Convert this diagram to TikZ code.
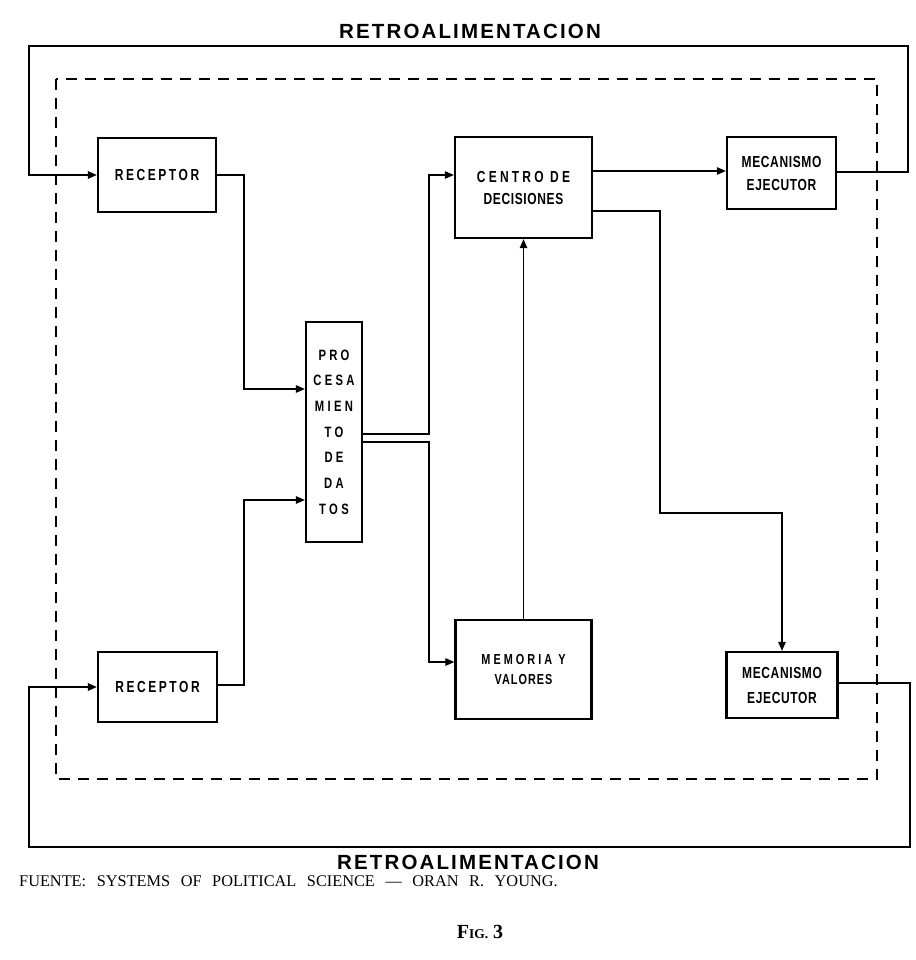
\documentclass[tikz,border=0pt]{standalone}
\usepackage{fontspec}
\setmainfont{Liberation Serif}
\setsansfont{Liberation Sans}
\newfontfamily\captfont[WordSpace=2.6]{Liberation Serif}
\newfontfamily\blkfont[FakeStretch=0.75]{Liberation Sans}
\usetikzlibrary{arrows.meta}
\newcommand{\lsp}[1]{\addfontfeature{LetterSpace=#1}}
\begin{document}
\begin{tikzpicture}[x=1pt,y=-1pt,
  blk/.style={draw,line width=2.3pt,inner sep=0pt,align=center,
    font=\blkfont\bfseries\fontsize{16}{22}\selectfont},
  conn/.style={line width=1.2pt},
  arr/.style={conn,-{Triangle[length=9pt,width=7.5pt]}},
  fbarr/.style={line width=1.6pt,-{Triangle[length=9pt,width=7.5pt]}},
  dashbox/.style={line width=1.5pt,dash pattern=on 11pt off 8pt},
  ttl/.style={font=\sffamily\bfseries\fontsize{20.5}{24}\selectfont\lsp{10.5}},
  capt/.style={font=\captfont\fontsize{16.3}{18}\selectfont}
]
\useasboundingbox (0,0) rectangle (915,960);
\fill[white] (0,0) rectangle (915,960);

% titles
\node[ttl] (t1) at (470,31) {RETROALIMENTACION};
\node[ttl] (t2) at (468,862) {RETROALIMENTACION};
\node[capt,anchor=west,inner sep=0pt] (src) at (19,881) {FUENTE: SYSTEMS OF POLITICAL SCIENCE — ORAN R. YOUNG.};
\node[font=\rmfamily\bfseries\fontsize{20}{22}\selectfont] (fig) at (480,932) {F{\fontsize{13.5}{15}\selectfont IG.} 3};

% system boundary
\draw[dashbox] (56,79) rectangle (877,779);

% blocks
\node[blk,minimum width=118pt,minimum height=74pt] (rec1) at (157,175)
  {{\lsp{16}RECEPTOR}};
\node[blk,minimum width=119pt,minimum height=70pt] (rec2) at (157.5,687)
  {{\lsp{16}RECEPTOR}};
\node[blk,minimum width=56pt,minimum height=220pt,
  font=\blkfont\bfseries\fontsize{15}{25.7}\selectfont\lsp{22}] (proc) at (334,432)
  {PRO\\CESA\\MIEN\\TO\\DE\\DA\\TOS};
\node[blk,minimum width=137pt,minimum height=101pt] (cen) at (523.5,187.5)
  {{\lsp{20}CENTRO DE}\\{\lsp{4}DECISIONES}};
\node[blk,minimum width=136pt,minimum height=99pt,
  font=\blkfont\bfseries\fontsize{14.5}{20}\selectfont] (mem) at (523.5,669.5)
  {{\lsp{21}MEMORIA Y}\\{\lsp{7}VALORES}};
\node[blk,minimum width=109pt,minimum height=72pt] (mec1) at (781.5,173)
  {{\lsp{4}MECANISMO}\\[1pt]{\lsp{4}EJECUTOR}};
\node[blk,minimum width=111pt,minimum height=66pt] (mec2) at (782,685)
  {{\lsp{4}MECANISMO}\\[3pt]{\lsp{4}EJECUTOR}};

% connectors
\draw[arr] (rec1.east) -| (244,389) -- (proc.west |- 244,389);
\draw[arr] (rec2.east |- 0,685) -| (244,500) -- (proc.west |- 244,500);
\draw[arr] (proc.east |- 0,434) -| (429,175) -- (cen.west |- 0,175);
\draw[arr] (proc.east |- 0,442) -| (429,662) -- (mem.west |- 0,662);
\draw[arr] (mem.north) -- (cen.south);
\draw[arr] (cen.east |- 0,171) -- (mec1.west |- 0,171);
\draw[arr] (cen.east |- 0,211) -| (660,513) -| (mec2.north);

% feedback loops
\draw[fbarr] (mec1.east |- 0,172) -| (908,46) -| (29,175) -- (rec1.west);
\draw[fbarr] (mec2.east |- 0,683) -| (910,847) -| (29,687) -- (rec2.west);
\end{tikzpicture}
\end{document}
